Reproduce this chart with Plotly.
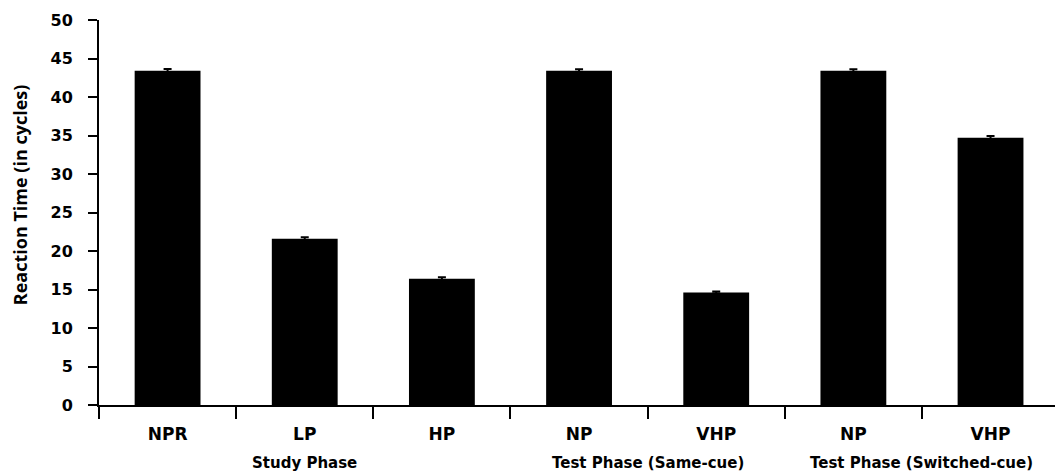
import plotly.graph_objects as go

categories = ["NPR", "LP", "HP", "NP", "VHP", "NP ", "VHP "]
tick_labels = ["NPR", "LP", "HP", "NP", "VHP", "NP", "VHP"]
values = [43.4, 21.6, 16.4, 43.4, 14.6, 43.4, 34.7]
errors = [0.25, 0.2, 0.2, 0.2, 0.15, 0.2, 0.25]
phase_labels = ["Study Phase", "Test Phase (Same-cue)", "Test Phase (Switched-cue)"]
phase_pos = [1, 3.5, 5.5]

fig = go.Figure()
fig.add_trace(go.Bar(
    x=categories, y=values,
    marker=dict(color="black", line=dict(width=0)),
    error_y=dict(type="data", array=errors, color="black", thickness=2, width=4, visible=True),
    width=0.48,
))

font_family = "DejaVu Sans, sans-serif"

for lab, pos in zip(phase_labels, phase_pos):
    fig.add_annotation(x=pos, y=-0.151, xref="x", yref="paper", text=lab,
                       showarrow=False, font=dict(size=15, color="black", family=font_family, weight="bold"),
                       xanchor="center", yanchor="middle")

fig.add_annotation(x=-79/956, y=0.545, xref="paper", yref="paper", text="Reaction Time (in cycles)",
                   textangle=-90, showarrow=False,
                   font=dict(size=18, color="black", family="Open Sans, sans-serif", weight="bold"),
                   xanchor="center", yanchor="middle")

fig.update_layout(
    width=1055, height=475,
    margin=dict(l=99, r=0, t=20, b=70),
    paper_bgcolor="white", plot_bgcolor="white",
    showlegend=False,
    font=dict(family=font_family, color="black"),
    xaxis=dict(
        type="category", range=[-0.5, 6.47],
        tickmode="array", tickvals=categories, ticktext=tick_labels,
        tickson="boundaries", ticks="outside", ticklen=12, tickwidth=2, tickcolor="black",
        showline=True, linecolor="black", linewidth=2,
        tickfont=dict(size=17, color="black", family=font_family, weight="bold"),
        ticklabelstandoff=13,
        showgrid=False, zeroline=False,
    ),
    yaxis=dict(
        range=[0, 50], tickvals=list(range(0, 51, 5)),
        ticks="outside", ticklen=9, tickwidth=2, tickcolor="black",
        showline=True, linecolor="black", linewidth=2,
        tickfont=dict(size=16, color="black", family=font_family, weight="bold"),
        ticklabelstandoff=12,
        showgrid=False, zeroline=False,
    ),
)

fig.write_html("out.html")
